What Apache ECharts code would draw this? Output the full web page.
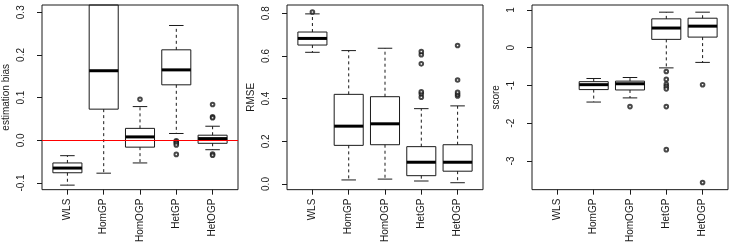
<!DOCTYPE html>
<html>
<head>
<meta charset="utf-8">
<script src="https://cdn.jsdelivr.net/npm/echarts@6/dist/echarts.min.js"></script>
<style>
html,body{margin:0;padding:0;background:#fff;}
#c{width:733px;height:245px;}
</style>
</head>
<body>
<div id="c"></div>
<script>
// ---------- data ----------
const categories = ['WLS', 'HomGP', 'HomOGP', 'HetGP', 'HetOGP'];

// Panel 1: estimation bias
const biasLow  = [-0.105, -0.077, -0.053, 0.016, -0.022];
const biasQ1   = [-0.076,  0.073, -0.016, 0.130, -0.007];
const biasMed  = [-0.065,  0.163,  0.008, 0.165,  0.004];
const biasQ3   = [-0.053,  0.360,  0.028, 0.212,  0.012];
const biasHigh = [-0.036,  0.550,  0.079, 0.269,  0.033];
const biasOutCat = [3, 4, 4, 4, 4, 4, 5, 5, 5, 5, 5];
const biasOutVal = [0.096, -0.001, -0.004, -0.007, -0.011, -0.033, 0.084, 0.055, 0.053, -0.032, -0.035];
const biasTicks = [-0.1, 0.0, 0.1, 0.2, 0.3];

// Panel 2: RMSE
const rmseLow  = [0.617, 0.019, 0.023, 0.014, 0.006];
const rmseQ1   = [0.651, 0.181, 0.184, 0.039, 0.060];
const rmseMed  = [0.682, 0.271, 0.282, 0.102, 0.102];
const rmseQ3   = [0.712, 0.420, 0.409, 0.175, 0.184];
const rmseHigh = [0.797, 0.625, 0.636, 0.353, 0.366];
const rmseOutCat = [1, 4, 4, 4, 4, 4, 4, 5, 5, 5, 5, 5];
const rmseOutVal = [0.806, 0.407, 0.423, 0.432, 0.563, 0.606, 0.621, 0.412, 0.420, 0.430, 0.487, 0.649];
const rmseTicks = [0.0, 0.2, 0.4, 0.6, 0.8];

// Panel 3: score (no WLS box)
const scoreLow  = [null, -1.44, -1.33, -0.535, -0.39];
const scoreQ1   = [null, -1.11, -1.12,  0.22,   0.28];
const scoreMed  = [null, -0.98, -0.956, 0.52,   0.57];
const scoreQ3   = [null, -0.90, -0.886, 0.763,  0.78];
const scoreHigh = [null, -0.816, -0.79, 0.94,   0.94];
const scoreOutCat = [3, 4, 4, 4, 4, 4, 4, 4, 5, 5];
const scoreOutVal = [-1.56, -0.63, -0.84, -0.97, -1.03, -1.09, -1.56, -2.70, -0.98, -3.57];
const scoreTicks = [-3, -2, -1, 0, 1];

// ---------- chart ----------
const FONT = 'Liberation Sans, Arial, sans-serif';
const INK = '#1a1a1a';

function rows(low, q1, med, q3, high) {
  const out = [];
  for (let i = 0; i < categories.length; i++) {
    if (med[i] == null) continue;
    out.push([i + 1, low[i], q1[i], med[i], q3[i], high[i]]);
  }
  return out;
}
function pts(cat, val) { return cat.map((c, i) => [c, val[i]]); }

function renderBox(params, api) {
  const cs = params.coordSys;
  const top = cs.y, bot = cs.y + cs.height;
  const x = api.value(0);
  const px = api.coord([x, 0])[0];
  const hw = api.size([0.8, 0])[0] / 2;
  const cw = hw / 2;
  const py = v => api.coord([x, v])[1];
  const clamp = y => Math.max(top, Math.min(bot, y));
  const low = py(api.value(1)), q1 = py(api.value(2)), med = py(api.value(3)),
        q3 = py(api.value(4)), high = py(api.value(5));
  const ch = [];
  const solid = { stroke: INK, lineWidth: 1, fill: null };
  const dashed = { stroke: INK, lineWidth: 1, lineDash: [3, 3], fill: null };
  // upper whisker
  if (q3 > top) ch.push({ type: 'line', shape: { x1: px, y1: clamp(q3), x2: px, y2: clamp(high) }, style: dashed });
  if (high >= top && high <= bot) ch.push({ type: 'line', shape: { x1: px - cw, y1: high, x2: px + cw, y2: high }, style: solid });
  // lower whisker
  if (q1 < bot) ch.push({ type: 'line', shape: { x1: px, y1: clamp(q1), x2: px, y2: clamp(low) }, style: dashed });
  if (low >= top && low <= bot) ch.push({ type: 'line', shape: { x1: px - cw, y1: low, x2: px + cw, y2: low }, style: solid });
  // box
  const bt = clamp(q3), bb = clamp(q1);
  ch.push({ type: 'rect', shape: { x: px - hw, y: bt, width: 2 * hw, height: bb - bt }, style: solid });
  // median
  if (med >= top && med <= bot) ch.push({ type: 'line', shape: { x1: px - hw, y1: med, x2: px + hw, y2: med }, style: { stroke: '#000', lineWidth: 3 } });
  return { type: 'group', children: ch };
}

const gridTop = 5, gridH = 186, gridW = 196;
const lefts = [42, 287, 532];
const yNames = ['estimation bias', 'RMSE', 'score'];
const yMins = [-0.1156, -0.0265, -3.76];
const yMaxs = [0.317, 0.8386, 1.13];
const yTickSets = [biasTicks, rmseTicks, scoreTicks];
const yFmt = [v => v.toFixed(1), v => v.toFixed(1), v => String(Math.round(v))];

const grids = [], xAxes = [], yAxes = [], series = [];
const boxData = [
  rows(biasLow, biasQ1, biasMed, biasQ3, biasHigh),
  rows(rmseLow, rmseQ1, rmseMed, rmseQ3, rmseHigh),
  rows(scoreLow, scoreQ1, scoreMed, scoreQ3, scoreHigh)
];
const outData = [pts(biasOutCat, biasOutVal), pts(rmseOutCat, rmseOutVal), pts(scoreOutCat, scoreOutVal)];

for (let k = 0; k < 3; k++) {
  grids.push({ left: lefts[k], top: gridTop, width: gridW, height: gridH, show: true,
    borderColor: INK, borderWidth: 1, backgroundColor: 'transparent', containLabel: false });
  xAxes.push({
    type: 'value', gridIndex: k, min: 0.3, max: 5.7, position: 'bottom',
    axisLine: { show: false, onZero: false }, splitLine: { show: false },
    axisTick: { show: true, inside: false, length: 5, lineStyle: { color: INK }, customValues: [1, 2, 3, 4, 5] },
    axisLabel: { show: true, rotate: 90, margin: 9, fontFamily: FONT, fontSize: 10, color: INK,
      customValues: [1, 2, 3, 4, 5], formatter: v => categories[Math.round(v) - 1] }
  });
  yAxes.push({
    type: 'value', gridIndex: k, min: yMins[k], max: yMaxs[k], position: 'left',
    name: yNames[k], nameLocation: 'middle', nameRotate: 90, nameGap: 31,
    nameTextStyle: { fontFamily: FONT, fontSize: 10, color: INK },
    axisLine: { show: false, onZero: false }, splitLine: { show: false },
    axisTick: { show: true, inside: false, length: 5, lineStyle: { color: INK }, customValues: yTickSets[k] },
    axisLabel: { show: true, rotate: 90, margin: 16, fontFamily: FONT, fontSize: 10, color: INK,
      customValues: yTickSets[k], formatter: yFmt[k] }
  });
  series.push({
    type: 'custom', xAxisIndex: k, yAxisIndex: k, data: boxData[k],
    encode: { x: 0, y: [1, 2, 3, 4, 5] }, renderItem: renderBox, silent: true, z: 2
  });
  series.push({
    type: 'scatter', xAxisIndex: k, yAxisIndex: k, data: outData[k],
    symbol: 'emptyCircle', symbolSize: 3.6,
    itemStyle: { color: INK, borderColor: INK, borderWidth: 0.8 }, silent: true, z: 3
  });
}
// red reference line at zero in panel 1
series.push({
  type: 'line', xAxisIndex: 0, yAxisIndex: 0, data: [], silent: true, z: 5,
  markLine: { silent: true, symbol: ['none', 'none'], label: { show: false },
    lineStyle: { color: '#ff0000', width: 1, type: 'solid' }, data: [{ yAxis: 0 }], animation: false }
});

const chart = echarts.init(document.getElementById('c'), null, { renderer: 'canvas' });
chart.setOption({ animation: false, grid: grids, xAxis: xAxes, yAxis: yAxes, series: series });
</script>
</body>
</html>
